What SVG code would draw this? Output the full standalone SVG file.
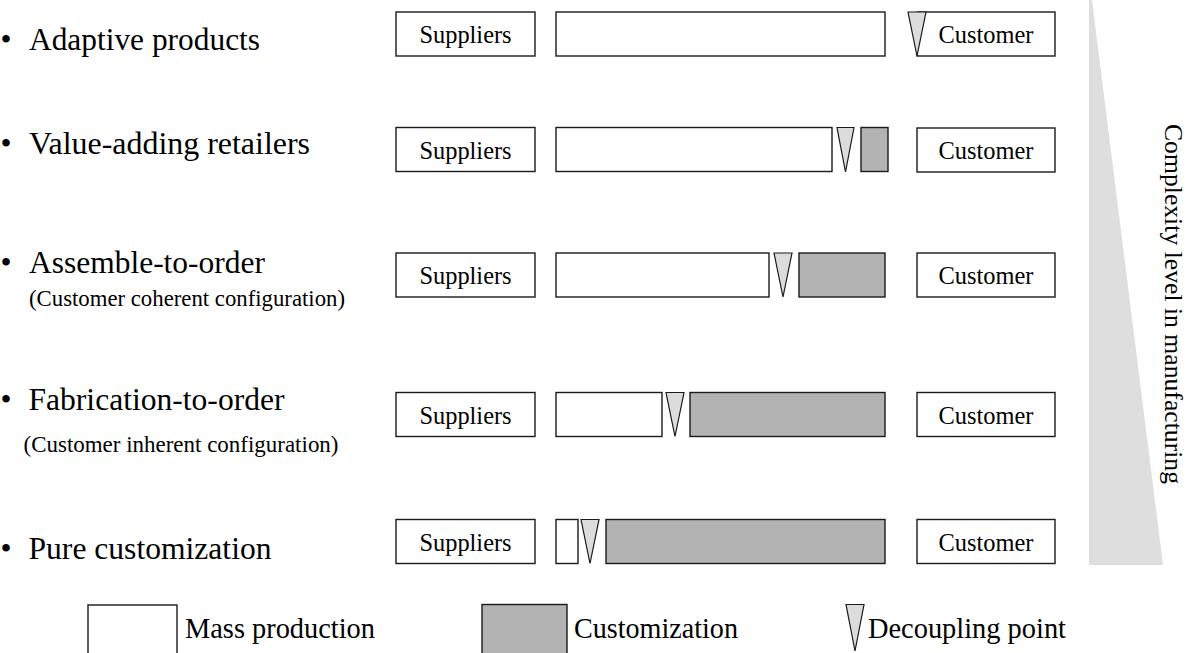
<svg xmlns="http://www.w3.org/2000/svg" width="1187" height="653" viewBox="0 0 1187 653">
<style>
text{font-family:"Liberation Serif","Times New Roman",serif;fill:#000}
.lbl{font-size:31.5px}
.sub{font-size:23px}
.box{font-size:24.4px;text-anchor:middle}
.leg{font-size:29px}
.mass{fill:#fff;stroke:#1a1a1a;stroke-width:1.4}
.cust{fill:#b3b3b3;stroke:#1a1a1a;stroke-width:1.4}
.dp{fill:#dcdcdc;stroke:#1a1a1a;stroke-width:1.2;stroke-linejoin:miter}
</style>
<rect width="1187" height="653" fill="#fff"/>

<g id="complexity-wedge">
<polygon points="1089,0 1092,0 1163,565 1089,565" fill="#dedede"/>
<text transform="translate(1165,304) rotate(90)" style="font-size:25px" text-anchor="middle" textLength="360" lengthAdjust="spacingAndGlyphs">Complexity level in manufacturing</text>
</g>

<g id="labels">
<text class="lbl" x="0.5" y="50">•</text><text class="lbl" x="29" y="50" textLength="231" lengthAdjust="spacingAndGlyphs">Adaptive products</text>
<text class="lbl" x="0.5" y="154">•</text><text class="lbl" x="29" y="154" textLength="281" lengthAdjust="spacingAndGlyphs">Value-adding retailers</text>
<text class="lbl" x="0.5" y="273">•</text><text class="lbl" x="29" y="273" textLength="236" lengthAdjust="spacingAndGlyphs">Assemble-to-order</text>
<text class="sub" x="29" y="306" textLength="316" lengthAdjust="spacingAndGlyphs">(Customer coherent configuration)</text>
<text class="lbl" x="0.5" y="410">•</text><text class="lbl" x="28.5" y="410" textLength="256" lengthAdjust="spacingAndGlyphs">Fabrication-to-order</text>
<text class="sub" x="23.5" y="452" textLength="315" lengthAdjust="spacingAndGlyphs">(Customer inherent configuration)</text>
<text class="lbl" x="0.5" y="559">•</text><text class="lbl" x="28.5" y="559" textLength="243" lengthAdjust="spacingAndGlyphs">Pure customization</text>
</g>

<g id="row-adaptive">
<rect class="mass" x="396" y="12" width="139" height="44"/><text class="box" x="465.5" y="43">Suppliers</text>
<rect class="mass" x="556" y="12" width="329" height="44"/>
<rect class="mass" x="917" y="12" width="138" height="44"/><text class="box" x="986" y="43">Customer</text>
<polygon class="dp" points="908,12 926,12 917,56"/>
</g>

<g id="row-value-adding">
<rect class="mass" x="396" y="127.5" width="139" height="44"/><text class="box" x="465.5" y="158.5">Suppliers</text>
<rect class="mass" x="556" y="127.5" width="276" height="44"/>
<polygon class="dp" points="837,127.5 854,127.5 845.5,172"/>
<rect class="cust" x="861" y="127.5" width="27" height="44"/>
<rect class="mass" x="917" y="128" width="138" height="44"/><text class="box" x="986" y="159">Customer</text>
</g>

<g id="row-assemble">
<rect class="mass" x="396" y="253" width="139" height="44"/><text class="box" x="465.5" y="284">Suppliers</text>
<rect class="mass" x="556" y="253" width="213" height="44"/>
<polygon class="dp" points="774,253 792,253 783,297"/>
<rect class="cust" x="799" y="253" width="86" height="44"/>
<rect class="mass" x="917" y="253" width="138" height="44"/><text class="box" x="986" y="284">Customer</text>
</g>

<g id="row-fabrication">
<rect class="mass" x="396" y="392.5" width="139" height="44"/><text class="box" x="465.5" y="423.5">Suppliers</text>
<rect class="mass" x="556" y="392.5" width="106" height="44"/>
<polygon class="dp" points="666,392.5 684,392.5 675,436.5"/>
<rect class="cust" x="690" y="392.5" width="195" height="44"/>
<rect class="mass" x="917" y="392.5" width="138" height="44"/><text class="box" x="986" y="423.5">Customer</text>
</g>

<g id="row-pure">
<rect class="mass" x="396" y="519.5" width="139" height="44"/><text class="box" x="465.5" y="550.5">Suppliers</text>
<rect class="mass" x="556" y="519.5" width="22" height="44"/>
<polygon class="dp" points="581,519.5 599,519.5 590,563.5"/>
<rect class="cust" x="606" y="519.5" width="279" height="44"/>
<rect class="mass" x="917" y="519.5" width="138" height="44"/><text class="box" x="986" y="550.5">Customer</text>
</g>

<g id="connectors"></g>

<g id="legend">
<rect class="mass" x="88" y="605" width="89" height="60"/>
<text class="leg" x="185" y="638" textLength="190" lengthAdjust="spacingAndGlyphs">Mass production</text>
<rect class="cust" x="482" y="604.5" width="85" height="60"/>
<text class="leg" x="574" y="638" textLength="164" lengthAdjust="spacingAndGlyphs">Customization</text>
<polygon class="dp" points="846,604.5 864,604.5 855,651"/>
<text class="leg" x="868" y="638" textLength="198" lengthAdjust="spacingAndGlyphs">Decoupling point</text>
</g>
</svg>
